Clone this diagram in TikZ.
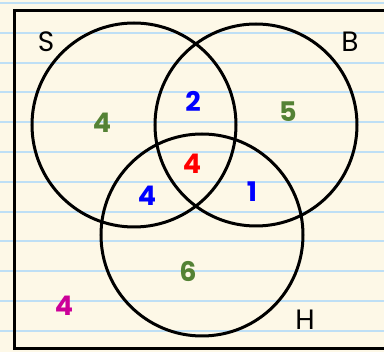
\documentclass[tikz,border=0pt]{standalone}
\usepackage{fontspec}
\setsansfont{Poppins}
\usepackage{tikz}

\definecolor{paper}{RGB}{253,248,231}
\definecolor{ruling}{RGB}{190,223,245}
\definecolor{setgreen}{RGB}{84,130,53}
\definecolor{setpink}{RGB}{204,0,153}

\begin{document}
\begin{tikzpicture}[x=1pt, y=-1pt,
    every node/.style={font=\sffamily},
    setname/.style={font=\sffamily\fontsize{28}{28}\selectfont},
    count/.style={font=\sffamily\bfseries\fontsize{27}{27}\selectfont},
    ring/.style={line width=3pt}]
  % lined paper
  \fill[paper] (0,0) rectangle (384,352);
  \useasboundingbox (0,0) rectangle (384,352);
  \foreach \k in {0,...,11}
    \draw[ruling, line width=2pt] (0,3+29.8*\k) -- (384,3+29.8*\k);
  % universal set, open to the right
  \draw[line width=3pt] (384,11) -- (14,11) -- (14,349) -- (384,349);
  % the three sets
  \draw[ring] (134,125) circle[radius=102];
  \draw[ring] (256,125) circle[radius=101];
  \draw[ring] (202,235) circle[radius=101];
  \node[setname] (nameS) at (46,42) {S};
  \node[setname] (nameB) at (350,42) {B};
  \node[setname] (nameH) at (305,320) {H};
  % region counts
  \node[count, setgreen] (onlyS) at (102,123) {4};
  \node[count, blue] (SB) at (193,101) {2};
  \node[count, setgreen] (onlyB) at (288,112) {5};
  \node[count, red] (SBH) at (192,164) {4};
  \node[count, blue] (SH) at (147,196) {4};
  \node[count, blue] (BH) at (252,192) {1};
  \node[count, setgreen] (onlyH) at (188,272) {6};
  \node[count, setpink] (none) at (64,306) {4};
\end{tikzpicture}
\end{document}
